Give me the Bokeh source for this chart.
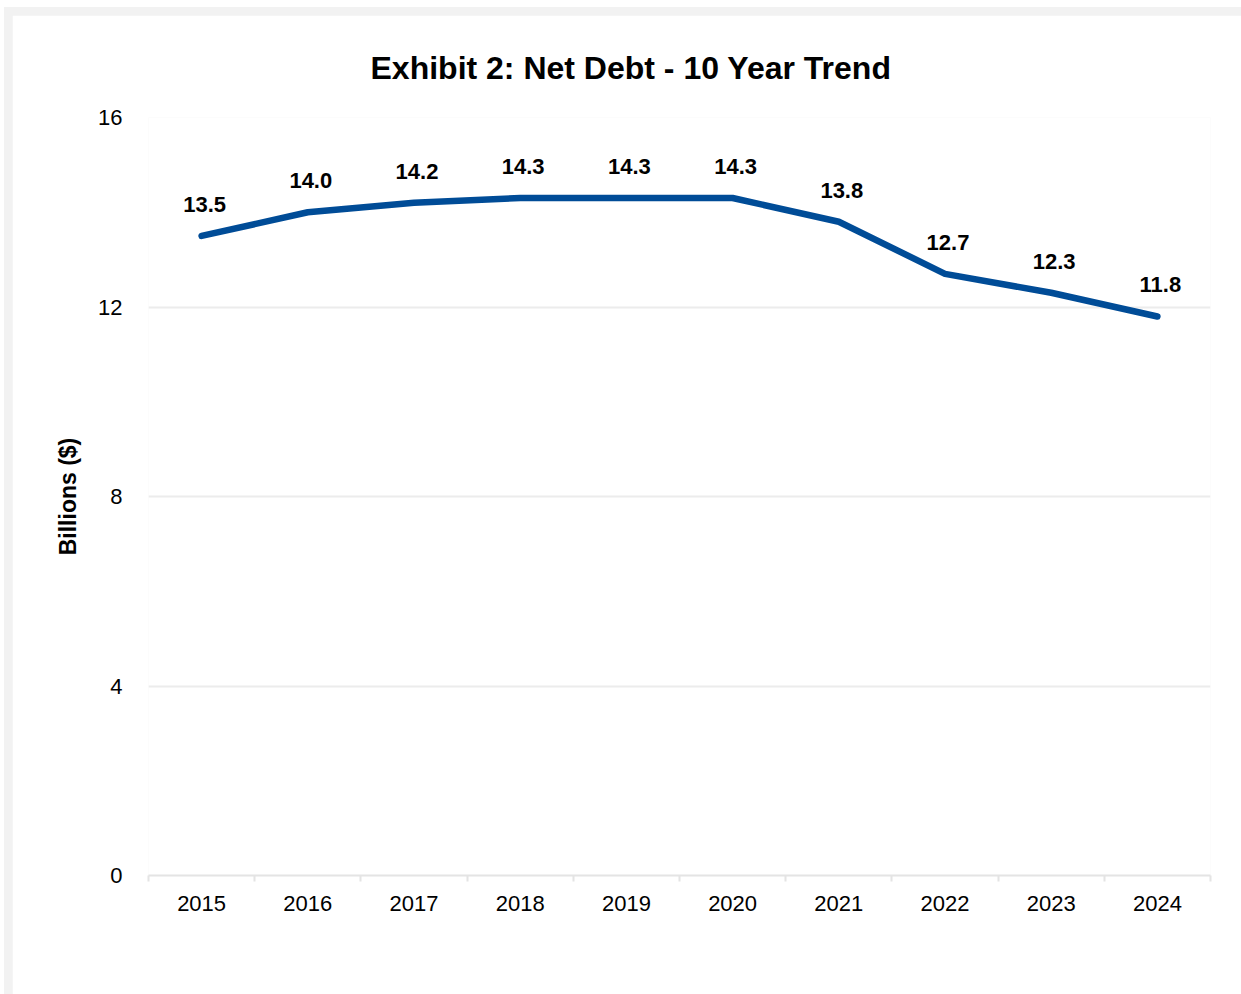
from bokeh.plotting import figure
from bokeh.models import ColumnDataSource, LabelSet, FixedTicker, Range1d, Title
from bokeh.layouts import column
from bokeh.core.properties import value
from bokeh.embed import file_html
from bokeh.resources import INLINE

years = ["2015", "2016", "2017", "2018", "2019", "2020", "2021", "2022", "2023", "2024"]
net_debt = [13.5, 14.0, 14.2, 14.3, 14.3, 14.3, 13.8, 12.7, 12.3, 11.8]
y_ticks = [0, 4, 8, 12, 16]
title_text = "Exhibit 2: Net Debt - 10 Year Trend"
y_label = "Billions ($)"

FONT = "Liberation Sans"

xs = [i + 0.5 for i in range(len(years))]
src = ColumnDataSource(dict(x=xs, y=net_debt, lab=[f"{v:.1f}" for v in net_debt]))

p = figure(width=1229, height=979, output_backend="svg", toolbar_location=None,
           x_range=Range1d(0, len(years)), y_range=Range1d(0, 16),
           min_border_left=136, min_border_right=31, min_border_top=102, min_border_bottom=119)
p.border_fill_color = "white"
p.background_fill_color = "white"
p.outline_line_color = None

p.line("x", "y", source=src, line_color="#004C97", line_width=6.5, line_cap="round", line_join="round")

labels = LabelSet(x="x", y="y", text="lab", source=src, y_offset=24, x_offset=3,
                  text_align="center", text_baseline="bottom",
                  text_font=value(FONT), text_font_size=value("22px"), text_font_style="bold",
                  text_color="black")
p.add_layout(labels)

# x axis
xt = FixedTicker(ticks=xs, minor_ticks=list(range(len(years) + 1)))
p.xaxis.ticker = xt
p.xaxis.major_label_overrides = {x: y for x, y in zip(xs, years)}
p.xaxis.major_tick_line_color = None
p.xaxis.major_tick_out = 0
p.xaxis.major_tick_in = 0
p.xaxis.minor_tick_line_color = "#e4e4e4"
p.xaxis.minor_tick_line_width = 2
p.xaxis.minor_tick_out = 6
p.xaxis.minor_tick_in = 0
p.xaxis.axis_line_color = "#e4e4e4"
p.xaxis.axis_line_width = 2
p.xaxis.major_label_text_font = FONT
p.xaxis.major_label_text_font_size = "22px"
p.xaxis.major_label_text_color = "black"
p.xaxis.major_label_standoff = 14

# y axis
p.yaxis.ticker = FixedTicker(ticks=y_ticks)
p.yaxis.axis_line_color = None
p.yaxis.major_tick_line_color = None
p.yaxis.minor_tick_line_color = None
p.yaxis.major_tick_out = 0
p.yaxis.major_tick_in = 0
p.yaxis.major_label_standoff = 26
p.yaxis.major_label_text_font = FONT
p.yaxis.major_label_text_font_size = "22px"
p.yaxis.major_label_text_color = "black"
p.yaxis.axis_label = y_label
p.yaxis.axis_label_text_font = FONT
p.yaxis.axis_label_text_font_size = "23px"
p.yaxis.axis_label_text_font_style = "bold"
p.yaxis.axis_label_text_color = "black"
p.yaxis.axis_label_standoff = 14

p.xgrid.grid_line_color = None
p.ygrid.ticker = FixedTicker(ticks=y_ticks)
p.ygrid.grid_line_color = "#ececec"
p.ygrid.grid_line_width = 2

p.add_layout(Title(text=title_text, align="left", offset=222, standoff=60, vertical_align="top",
                   text_font=FONT, text_font_size="32px", text_font_style="bold",
                   text_color="black"), "above")

inner = column(p, styles={"background-color": "#f2f2f2", "padding": "8px 0px 0px 8px"})
layout = column(inner, styles={"background-color": "white", "padding": "7px 0px 0px 4px"})

open("out.html", "w").write(file_html(layout, INLINE))
